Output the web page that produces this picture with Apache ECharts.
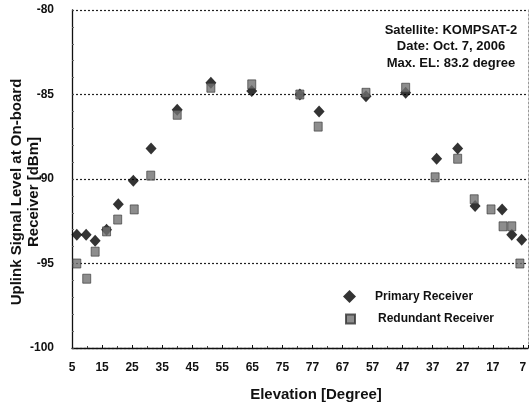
<!DOCTYPE html>
<html>
<head>
<meta charset="utf-8">
<script src="https://cdn.jsdelivr.net/npm/echarts@6/dist/echarts.min.js"></script>
<style>
html,body{margin:0;padding:0;background:#fff;}
#c{width:530px;height:407px;}
</style>
</head>
<body>
<div id="c"></div>
<script>
// Tick labels (elevation in degrees) placed at evenly spaced time ticks
const xTickLabels = ['5','15','25','35','45','55','65','75','77','67','57','47','37','27','17','7'];
const yMin = -100, yMax = -80, yStep = 5;

// Primary receiver: position along the pass (tick units) and signal level (dBm)
const primaryPos = [0.16,0.47,0.77,1.15,1.54,2.04,2.63,3.50,4.62,5.98,7.58,8.22,9.78,11.10,12.13,12.83,13.41,14.31,14.63,14.96];
const primaryVal = [-93.3,-93.3,-93.65,-93.0,-91.5,-90.1,-88.2,-85.9,-84.3,-84.8,-85.0,-86.0,-85.1,-84.9,-88.8,-88.2,-91.6,-91.8,-93.3,-93.6];

// Redundant receiver
const redundantPos = [0.16,0.49,0.77,1.15,1.52,2.07,2.62,3.50,4.62,5.98,7.58,8.19,9.78,11.10,12.08,12.83,13.38,13.94,14.34,14.63,14.90];
const redundantVal = [-95.0,-95.9,-94.3,-93.1,-92.4,-91.8,-89.8,-86.2,-84.6,-84.4,-85.0,-86.9,-84.9,-84.6,-89.9,-88.8,-91.2,-91.8,-92.8,-92.8,-95.0];

const annotation = ['Satellite: KOMPSAT-2','Date: Oct. 7, 2006','Max. EL: 83.2 degree'];

const FONT = '"Liberation Sans", Arial, sans-serif';
const zip = (a,b) => a.map((v,i)=>[v,b[i]]);

const chart = echarts.init(document.getElementById('c'), null, {renderer:'canvas'});
chart.setOption({
  animation:false,
  backgroundColor:'#fff',
  grid:{left:72, right:2, top:10, bottom:59, containLabel:false},
  xAxis:{
    type:'value', min:0, max:15.17, interval:1,
    axisLine:{show:true, onZero:false, lineStyle:{color:'#111', width:1.3}},
    axisTick:{show:true, inside:true, length:3, lineStyle:{color:'#111'}},
    minorTick:{show:true, splitNumber:2, length:2, lineStyle:{color:'#444'}},
    splitLine:{show:false},
    axisLabel:{
      margin:14, color:'#111', fontFamily:FONT, fontWeight:'bold', fontSize:12,
      showMaxLabel:false,
      formatter:function(v){ const i=Math.round(v); return Math.abs(v-i)<1e-6 && xTickLabels[i]!==undefined ? xTickLabels[i] : ''; }
    }
  },
  yAxis:[{
    type:'value', min:yMin, max:yMax, interval:yStep,
    axisLine:{show:true, onZero:false, lineStyle:{color:'#111', width:1.3}},
    axisTick:{show:true, inside:true, length:2, lineStyle:{color:'#444'}},
    minorTick:{show:true, splitNumber:5, length:2, lineStyle:{color:'#666'}},
    splitLine:{show:true, lineStyle:{color:'#222', type:[2,2], width:1.2}},
    axisLabel:{margin:18, color:'#111', fontFamily:FONT, fontWeight:'bold', fontSize:12}
  },{
    type:'value', min:yMin, max:yMax, interval:yStep, position:'right',
    axisLine:{show:true, onZero:false, lineStyle:{color:'#999', type:[2,2], width:1}},
    axisTick:{show:false}, axisLabel:{show:false}, splitLine:{show:false}
  }],
  legend:[{
    data:[{name:'Primary Receiver', icon:'diamond'}],
    left:343, top:290, padding:0, itemWidth:13, itemHeight:13,
    textStyle:{color:'#111', fontFamily:FONT, fontWeight:'bold', fontSize:12, padding:[0,0,0,14]}
  },{
    data:[{name:'Redundant Receiver', icon:'rect'}],
    left:345, top:313, padding:0, itemWidth:9, itemHeight:9,
    textStyle:{color:'#111', fontFamily:FONT, fontWeight:'bold', fontSize:12, padding:[0,0,0,18]}
  }],
  series:[{
    name:'Primary Receiver', type:'scatter', symbol:'diamond', symbolSize:[11,12],
    itemStyle:{color:'#000'}, data:zip(primaryPos, primaryVal), z:3
  },{
    name:'Redundant Receiver', type:'scatter', symbol:'rect', symbolSize:[8,9],
    itemStyle:{color:'#707070', borderColor:'#333', borderWidth:0.8}, data:zip(redundantPos, redundantVal), z:4
  }],
  graphic:[{
    type:'text', x:451, y:22,
    style:{text:annotation.join('\n'), textAlign:'center', fill:'#111',
      font:'bold 13px ' + FONT, lineHeight:16.5}
  },{
    type:'text', x:25, y:192, rotation:Math.PI/2,
    style:{text:'Uplink Signal Level at On-board\nReceiver [dBm]', textAlign:'center', textVerticalAlign:'middle',
      fill:'#111', font:'bold 15px ' + FONT, lineHeight:17}
  },{
    type:'text', x:316, y:395,
    style:{text:'Elevation [Degree]', textAlign:'center', textVerticalAlign:'middle',
      fill:'#111', font:'bold 15px ' + FONT}
  }]
});
</script>
</body>
</html>
